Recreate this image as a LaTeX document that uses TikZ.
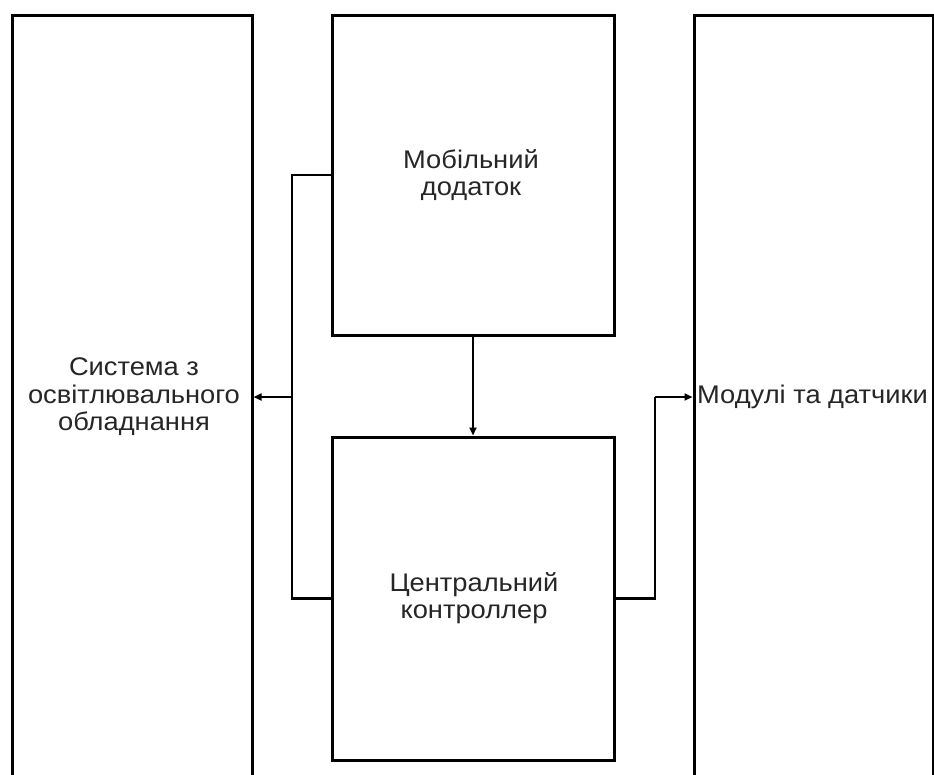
\documentclass[tikz,border=0pt]{standalone}
\usepackage{fontspec}
\setmainfont{Liberation Sans}[FakeStretch=1.07]
\usetikzlibrary{arrows.meta}
\begin{document}
\begin{tikzpicture}[x=1pt,y=-1pt,
  box/.style={draw=black,line width=3pt,minimum width=#1,inner sep=0pt},
  lbl/.style={font=\fontsize{25.5}{27.5}\selectfont,align=center,inner sep=0pt,text=black!85},
  conn/.style={draw=black,line width=2.5pt},
  arr/.style={conn,-{Stealth[length=8pt,width=7pt,inset=0pt]}}]
\useasboundingbox (0,0) rectangle (934,774);
\begin{scope}
\clip (0,0) rectangle (934,774);
\node[box=240pt,minimum height=764pt] (left) at (132,397) {};
\node[box=239pt,minimum height=764pt] (right) at (813.5,397) {};
\end{scope}
\node[box=282pt,minimum height=320pt] (top) at (473,175) {};
\node[box=282pt,minimum height=323pt] (bot) at (473,598.5) {};
\node[lbl] (ltext) at (134,397) {Система з\\освітлювального\\обладнання};
\node[lbl,anchor=west] (rtext) at (697,397) {Модулі та датчики};
\node[lbl] (ttext) at (471,175) {Мобільний\\додаток};
\node[lbl] (btext) at (474,598) {Центральний\\контроллер};
\coordinate (j1) at (292,397);
\coordinate (j2) at (655,397);
\draw[conn] (top.west) -| (j1) |- (bot.west);
\draw[arr] (j1) -- (left.east);
\draw[arr] (top.south) -- (bot.north);
\draw[conn] (bot.east) -| (j2);
\draw[arr] (j2) -- (right.west);
\end{tikzpicture}
\end{document}
